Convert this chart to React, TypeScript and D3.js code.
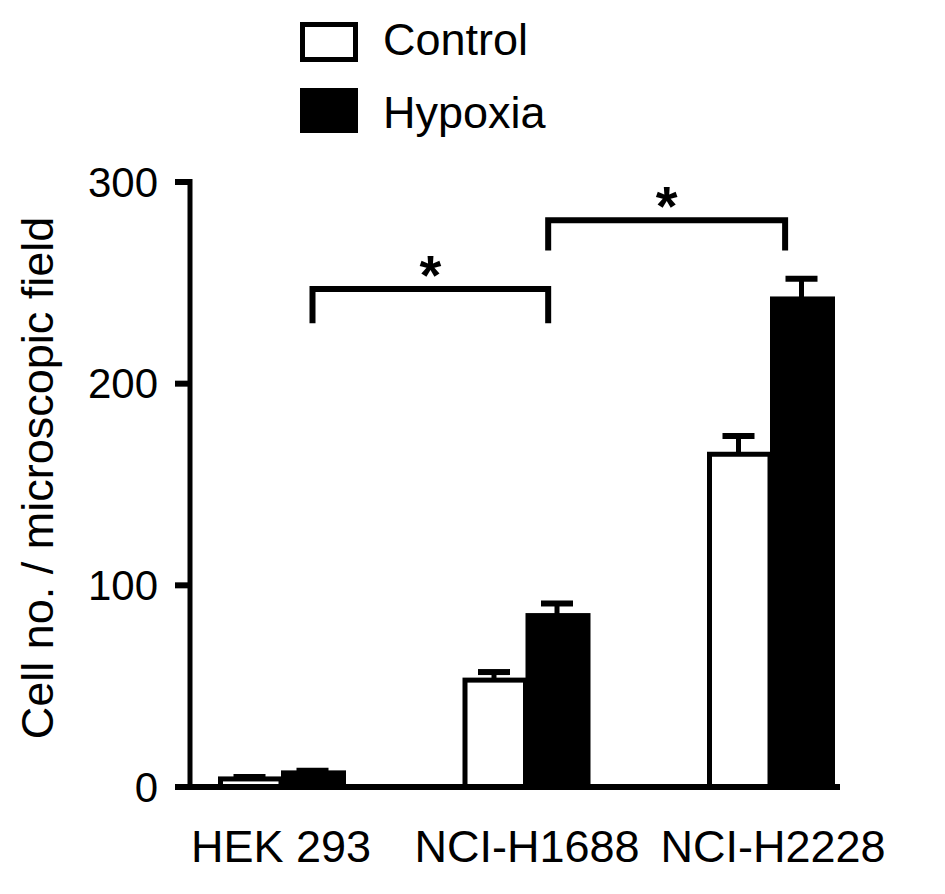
import React from "react";
import * as d3 from "d3";

const categories = ["HEK 293", "NCI-H1688", "NCI-H2228"];
const seriesNames = ["Control", "Hypoxia"];
const controlValues = [4, 53, 165];
const controlErrors = [1, 4, 9];
const hypoxiaValues = [7, 85, 242];
const hypoxiaErrors = [1, 6, 10];
const yTicks = [0, 100, 200, 300];
const yTitle = "Cell no. / microscopic field";
// brackets: from/to category index with bar-width offset fractions, y values in data units
const brackets = [
  { from: 0, fromOff: 0.5, to: 1, toOff: 0.36, top: 247, leg: 230, label: "*" },
  { from: 1, fromOff: 0.36, to: 2, toOff: 0.24, top: 281, leg: 266, label: "*" },
];

const W = 945;
const H = 894;
const FONT = "'Liberation Sans', Arial, Helvetica, sans-serif";

export default function App() {
  const y = d3.scaleLinear().domain([0, 300]).range([787, 182]);
  const x = d3.scalePoint<string>().domain(categories).range([281, 770]);
  const labelX = d3.scalePoint<string>().domain(categories).range([281, 773]);
  const barW = 63;
  const sw = 5;
  const axisX = 190;

  return (
    <svg
      width={W}
      height={H}
      style={{ position: "absolute", left: 0, top: 0, background: "#fff" }}
      fontFamily={FONT}
    >
      <rect x={0} y={0} width={W} height={H} fill="#fff" />
      {/* bars */}
      {categories.map((c, i) => {
        const cx = x(c) as number;
        const cTop = y(controlValues[i]);
        const hTop = y(hypoxiaValues[i]);
        return (
          <g key={c}>
            {/* control error bar */}
            <line x1={cx - barW / 2} x2={cx - barW / 2} y1={cTop} y2={y(controlValues[i] + controlErrors[i])} stroke="#000" strokeWidth={sw} />
            <line x1={cx - barW / 2 - 16} x2={cx - barW / 2 + 16} y1={y(controlValues[i] + controlErrors[i])} y2={y(controlValues[i] + controlErrors[i])} stroke="#000" strokeWidth={6} />
            {/* hypoxia error bar */}
            <line x1={cx + barW / 2} x2={cx + barW / 2} y1={hTop} y2={y(hypoxiaValues[i] + hypoxiaErrors[i])} stroke="#000" strokeWidth={sw} />
            <line x1={cx + barW / 2 - 16} x2={cx + barW / 2 + 16} y1={y(hypoxiaValues[i] + hypoxiaErrors[i])} y2={y(hypoxiaValues[i] + hypoxiaErrors[i])} stroke="#000" strokeWidth={6} />
            <rect
              x={cx - barW + sw / 2}
              y={cTop}
              width={barW - sw / 2}
              height={y(0) - cTop}
              fill="#fff"
              stroke="#000"
              strokeWidth={sw}
            />
            <rect
              x={cx}
              y={hTop - sw / 2}
              width={barW + 2}
              height={y(0) - hTop + sw / 2}
              fill="#000"
            />
          </g>
        );
      })}
      {/* y axis */}
      <line x1={axisX} x2={axisX} y1={y(300) - 3} y2={y(0)} stroke="#000" strokeWidth={5} />
      {yTicks.map((t) => (
        <g key={t}>
          <line x1={175} x2={axisX} y1={y(t)} y2={y(t)} stroke="#000" strokeWidth={6} />
          <text x={158} y={y(t)} dy="0.35em" textAnchor="end" fontSize={42} fill="#000">
            {t}
          </text>
        </g>
      ))}
      {/* x axis */}
      <line x1={175} x2={840} y1={y(0)} y2={y(0)} stroke="#000" strokeWidth={6} />
      {categories.map((c) => (
        <text key={c} x={labelX(c) as number} y={862} textAnchor="middle" fontSize={45} fill="#000">
          {c}
        </text>
      ))}
      {/* y title */}
      <text transform={`translate(53,478) rotate(-90)`} textAnchor="middle" fontSize={45} fill="#000">
        {yTitle}
      </text>
      {/* significance brackets */}
      {brackets.map((b, i) => {
        const x1 = (x(categories[b.from]) as number) + b.fromOff * barW;
        const x2 = (x(categories[b.to]) as number) + b.toOff * barW;
        const yt = y(b.top);
        const yl = y(b.leg);
        return (
          <g key={i}>
            <path
              d={`M${x1},${yl} L${x1},${yt} L${x2},${yt} L${x2},${yl}`}
              fill="none"
              stroke="#000"
              strokeWidth={6}
              strokeLinejoin="miter"
            />
            <text x={(x1 + x2) / 2} y={yt + 5} textAnchor="middle" fontSize={56} fontWeight="bold" fill="#000">
              {b.label}
            </text>
          </g>
        );
      })}
      {/* legend */}
      {seriesNames.map((s, i) => (
        <g key={s}>
          {i === 0 ? (
            <rect x={302.5} y={24.5} width={53} height={35} fill="#fff" stroke="#000" strokeWidth={5} />
          ) : (
            <rect x={300} y={88} width={58} height={45} fill="#000" />
          )}
          <text x={383} y={i === 0 ? 55 : 128} fontSize={45} fill="#000">
            {s}
          </text>
        </g>
      ))}
    </svg>
  );
}
